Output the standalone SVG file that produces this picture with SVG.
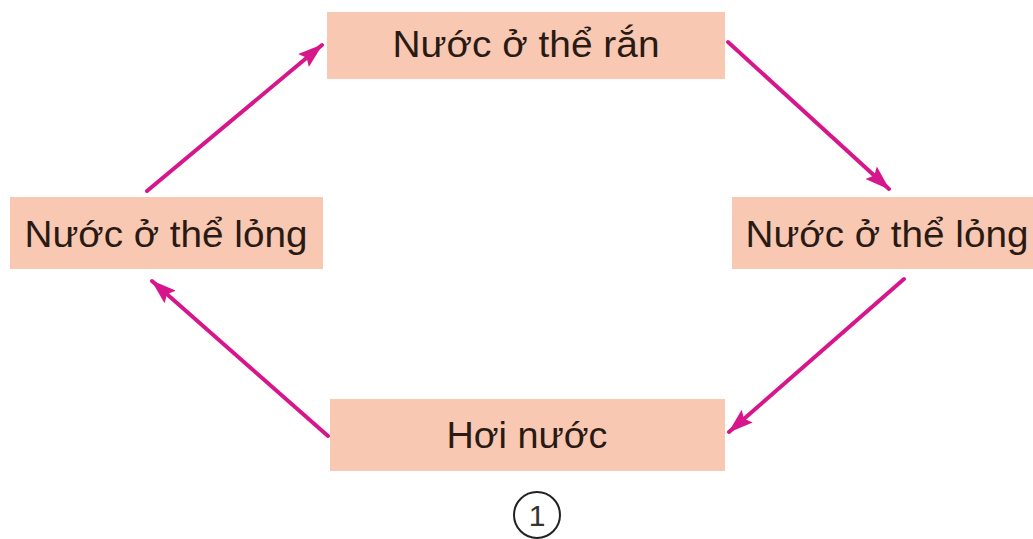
<svg xmlns="http://www.w3.org/2000/svg" width="1033" height="539" viewBox="0 0 1033 539">
<defs>
<style>
.box{fill:#f8c8b3}
.t{font-family:"Liberation Sans",Arial,sans-serif;font-size:37px;fill:#2a1a14;text-anchor:middle}
.c{stroke:#d8168c;stroke-width:4;fill:none;stroke-linecap:round}
</style>
<marker id="ah" viewBox="0 0 12 8" refX="11.5" refY="4" markerWidth="6.5" markerHeight="4.2" markerUnits="strokeWidth" orient="auto">
<path d="M0,0 L12,4 L0,8 L2,4 Z" fill="#d8168c"/>
</marker>
</defs>
<rect width="1033" height="539" fill="#ffffff"/>
<g id="node-ran">
<rect class="box" x="327" y="12" width="398" height="67"/>
<text class="t" x="526" y="57" textLength="267" lengthAdjust="spacingAndGlyphs">Nước ở thể rắn</text>
</g>
<g id="node-long-left">
<rect class="box" x="10" y="197" width="313" height="72"/>
<text class="t" x="166" y="247" textLength="283" lengthAdjust="spacingAndGlyphs">Nước ở thể lỏng</text>
</g>
<g id="node-long-right">
<rect class="box" x="732" y="197" width="310" height="72"/>
<text class="t" x="887" y="247" textLength="283" lengthAdjust="spacingAndGlyphs">Nước ở thể lỏng</text>
</g>
<g id="node-hoi">
<rect class="box" x="330" y="399" width="395" height="72"/>
<text class="t" x="527" y="448" textLength="161" lengthAdjust="spacingAndGlyphs">Hơi nước</text>
</g>
<g id="label-1">
<circle cx="537" cy="515" r="23" fill="none" stroke="#222" stroke-width="2"/>
<text x="537" y="526" font-family="Liberation Sans,Arial,sans-serif" font-size="30" fill="#333" text-anchor="middle">1</text>
</g>
<g id="connectors">
<line class="c" x1="147" y1="191" x2="322" y2="45" marker-end="url(#ah)"/>
<line class="c" x1="728" y1="42" x2="889" y2="189" marker-end="url(#ah)"/>
<line class="c" x1="904" y1="279" x2="729" y2="432" marker-end="url(#ah)"/>
<line class="c" x1="328" y1="436" x2="152" y2="281" marker-end="url(#ah)"/>
</g>
</svg>
